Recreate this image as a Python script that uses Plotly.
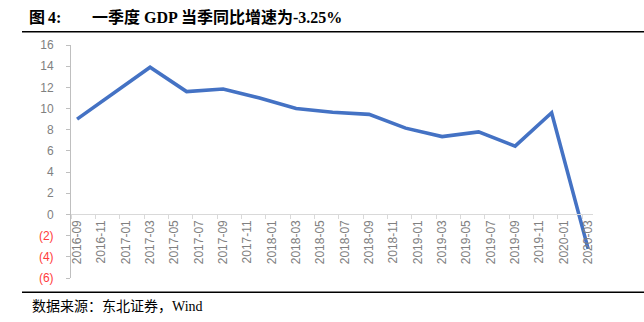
import plotly.graph_objects as go

# ---- data ----
quarters = ["2016-09", "2016-12", "2017-03", "2017-06", "2017-09", "2017-12",
            "2018-03", "2018-06", "2018-09", "2018-12", "2019-03", "2019-06",
            "2019-09", "2019-12", "2020-03"]
gdp_yoy = [9.0, 11.5, 13.9, 11.6, 11.85, 11.0, 10.0, 9.65, 9.45, 8.15, 7.35, 7.8,
           6.45, 9.6, -3.25]
x_labels = ["2016-09", "2016-11", "2017-01", "2017-03", "2017-05", "2017-07",
            "2017-09", "2017-11", "2018-01", "2018-03", "2018-05", "2018-07",
            "2018-09", "2018-11", "2019-01", "2019-03", "2019-05", "2019-07",
            "2019-09", "2019-11", "2020-01", "2020-03"]
y_ticks = [-6, -4, -2, 0, 2, 4, 6, 8, 10, 12, 14, 16]

title_prefix = "图"
title_num = "4:"
title_main = "一季度 GDP 当季同比增速为-3.25%"
source_text = "数据来源：东北证券，Wind"


def month_index(s):
    y, m = s.split("-")
    return (int(y) - 2016) * 12 + int(m) - 9


xq = [month_index(q) for q in quarters]
xl = [month_index(l) for l in x_labels]


def ylab(v):
    if v < 0:
        return '<span style="color:#ff3b3b">(%d)</span>' % (-v)
    return str(v)


W, H = 644, 322
ml, mr, mt, mb = 71, 51, 45, 44

ymin, ymax = -6, 16
zero_pos = (0 - ymin) / (ymax - ymin)  # fraction within y domain

fig = go.Figure()
fig.add_trace(go.Scatter(
    x=xq, y=gdp_yoy, mode="lines",
    line=dict(color="#4472C4", width=3.6),
    hoverinfo="skip", showlegend=False,
))

fig.update_layout(
    width=W, height=H,
    margin=dict(l=ml, r=mr, t=mt, b=mb, pad=0, autoexpand=False),
    paper_bgcolor="white", plot_bgcolor="white",
    xaxis=dict(
        range=[-0.5, 42.4],
        tickmode="array", tickvals=xl, ticktext=x_labels,
        tickangle=-90, ticks="",
        tickfont=dict(family="Liberation Sans, Arial", size=12, color="#808080"),
        showgrid=False, zeroline=False,
        showline=True, linecolor="#d9d9d9", linewidth=1,
        anchor="free", position=zero_pos,
        minor=dict(tickmode="array", tickvals=[v - 0.5 for v in xl],
                   ticks="outside", ticklen=4, tickcolor="#d9d9d9", tickwidth=1,
                   showgrid=False),
        automargin=False,
    ),
    yaxis=dict(
        range=[ymin, ymax],
        tickmode="array", tickvals=y_ticks, ticktext=[ylab(v) for v in y_ticks],
        ticks="outside", ticklen=4, tickcolor="#bfbfbf", tickwidth=1,
        ticklabelstandoff=10,
        tickfont=dict(family="Liberation Sans, Arial", size=12, color="#808080"),
        showgrid=False, zeroline=False,
        showline=True, linecolor="#bfbfbf", linewidth=1,
        automargin=False,
    ),
)


def px_x(px):
    return (px - ml) / (W - ml - mr)


def px_y(py):
    return ((H - py) - mb) / (H - mt - mb)


# title / footer lines
for py in (31.7, 292.3):
    fig.add_shape(type="line", xref="paper", yref="paper",
                  x0=px_x(22), x1=px_x(W), y0=px_y(py), y1=px_y(py),
                  line=dict(color="black", width=1.5))

tfont = dict(family="Liberation Serif, Noto Sans CJK SC", size=16, color="black")
fig.add_annotation(text="<b>%s</b>" % title_prefix, x=px_x(27), y=px_y(17),
                   xref="paper", yref="paper", xanchor="left", yanchor="middle",
                   showarrow=False, font=tfont)
fig.add_annotation(text="<b>%s</b>" % title_num, x=px_x(46), y=px_y(17),
                   xref="paper", yref="paper", xanchor="left", yanchor="middle",
                   showarrow=False, font=tfont)
fig.add_annotation(text="<b>%s</b>" % title_main, x=px_x(90), y=px_y(17),
                   xref="paper", yref="paper", xanchor="left", yanchor="middle",
                   showarrow=False, font=tfont)
fig.add_annotation(text=source_text, x=px_x(30), y=px_y(306),
                   xref="paper", yref="paper", xanchor="left", yanchor="middle",
                   showarrow=False,
                   font=dict(family="Liberation Serif, Noto Sans CJK SC", size=14,
                             color="black"))

fig.write_html("out.html")
